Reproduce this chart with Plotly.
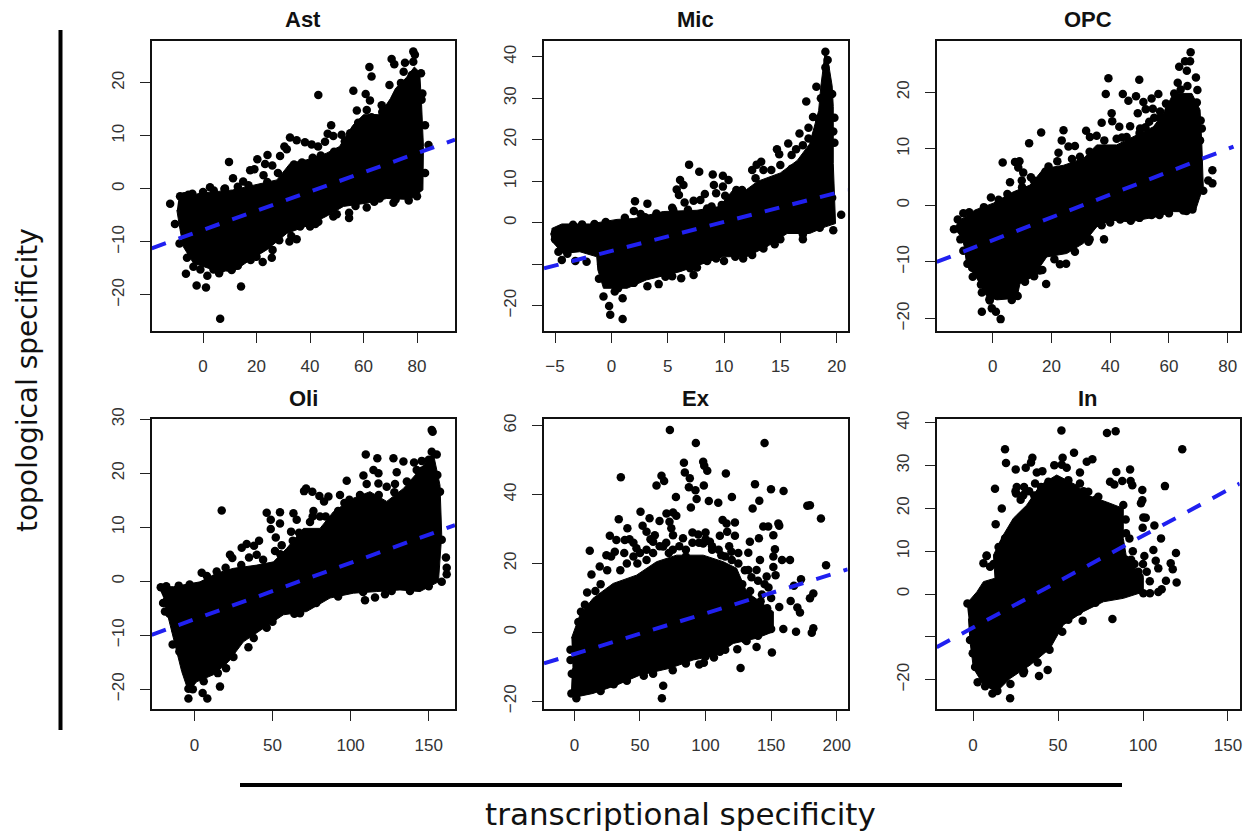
import plotly.graph_objects as go

TITLES = ["Ast", "Mic", "OPC", "Oli", "Ex", "In"]

# dense-core silhouettes and individually readable points, in data units
AST_CORE_X = [-9.2,-1,11,20,27.6,32.5,38.8,46,51,56,60,66,70,72,76,79,81,81.7,82.4,82.2,77.5,68.7,61,52.5,46,38.8,31.3,23.8,17.6,11.3,3.9,-3.6,-7.4,-8.6,-9.8]
AST_CORE_Y = [-1.8,-.8,-.2,.8,1.7,4.8,5.5,6.7,8,12,14,14,17,19,21,23,22,16,8,-.2,-2,-1.8,-2.7,-3.3,-5.2,-7,-8.4,-11.5,-13.4,-15.6,-15.3,-14,-10.9,-7.7,-4]
AST_X = [-12.3,-10.5,-8.8,-6.4,-2.4,1.1,1.6,6.4,14.2,9.7,11.2,20.3,24.1,23.2,22.6,17.6,19.2,25.9,28.8,30.4,31.3,32.5,35,38.1,40.6,43,45.6,43.1,47.9,46.6,48.7,51.8,56.2,62.2,63,60.8,62.4,57.5,61.2,66.8,64.3,70.5,71.5,75.5,78.6,79.2,78.6,75,69.7,81.5,81.7,84.3,71.2,76.9,66,61.2,54.6,54.6,48.7,43.1,40,36.3,35,32.3,28.5,25.7,22.3,17.8,10.7,7,3.9,-3.6,-8.6,-5.5,2.6,8.2,15]
AST_Y = [-2.8,-6.6,-10.3,-16,-18.2,-18.6,-16.4,-24.5,-18.4,5.1,2,5.6,6.4,4.7,2.6,3.5,3.7,4.4,6.2,8,7.5,9.7,9.2,8.8,8.4,8,8.9,17.7,12,10.4,10,10.2,18.5,23,21.2,17.9,16.7,14.8,14.9,15.8,13.3,24.5,23.5,23.8,25.9,25.3,24,22.1,19.6,21.8,16.8,8.3,-2.6,-2.2,-1.8,-3.5,-5.5,-4.5,-5.2,-6.2,-7.1,-7.1,-9.5,-9.9,-9.7,-13,-13.8,-13.4,-15.3,-15,-15.2,-14.7,-1.4,-1.1,.3,.1,1.4]
AST_EDGE_X = [-7,-4,0,4,8,13,17,24,28,34,37,41,44,49,53,55,58,63,67,-6,-1,6,13,20,26,33,42,50,57,64,72,80,83,83,82,74,78]
AST_EDGE_Y = [-1.4,-.9,-.6,-.3,0,.4,.7,1.3,3,4.6,5,5.9,6.3,7,9,10.5,12.5,13.5,14.5,-13,-15.2,-15.9,-14.5,-12.8,-11.5,-8.9,-6.6,-4.8,-3.2,-2.4,-2,-1.4,3,12,18,20,21.5]

MIC_CORE_X = [-5.3,-4.4,-1.9,.5,2,4.6,7.6,9.6,10.8,12,13,15,16.5,17.6,18,18.4,18.6,18.8,19,19.3,19.6,19.7,19.7,19.9,19,17.6,15.6,13.8,12,9.9,8.2,6.1,3.1,1.4,-.7,-1.2,-1.3,-2.8,-4.3,-5.1,-5.4]
MIC_CORE_Y = [-1.4,-.3,-.3,.8,1,2.7,3,3.9,7.9,8,10,12,15,19,23,27,33,38,41.6,38,33,28,14.3,-.2,-1,-2.6,-2.6,-5.8,-8.2,-8.2,-9.8,-11.8,-13.8,-15.8,-15.8,-11.4,-8.2,-7,-7.4,-5,-2.6]
MIC_X = [-4.4,-3.2,-2.2,-4.7,-3.9,-.7,-.2,-.1,1,1,.3,3.2,4.2,5.4,6.2,7.3,7.6,2.1,3.2,2,2.6,5.4,6.9,7.8,6.1,6.4,5.8,6,6.5,7.3,7.9,8.3,9,9.9,10.4,9.1,9.9,9.3,10.1,8.9,9.8,11.1,12.5,12.9,13.3,13.5,12.8,14.2,15,14.7,14.9,15.7,16,16.7,16.4,17.3,17.5,17,17.5,17.9,18.2,19,19.2,19,19.8,19.8,20.4,19.7,17,14.5,13.5,11.7,11,9.3,8.5]
MIC_Y = [-9,-9.2,-9.4,-7,-7.5,-17.8,-20.1,-22.2,-23.2,-18.2,-16.6,-15.3,-14.8,-12.9,-13.4,-12.6,-10.8,5.2,4.6,2.8,2.1,3.6,14,12.3,10.3,9.1,8,6.7,4.9,5.3,5.5,6.9,11.6,11.3,10.3,9.1,8.7,7.1,6.5,3.9,4.3,7.9,12.7,14,14.7,12.7,10.7,12.7,13.9,17.7,16.5,19.1,16.3,21.5,17.7,29.2,22.9,18.7,20.3,25.5,32.8,41.2,39.2,37.4,25.3,19.3,1.9,-1.8,-4,-5.2,-6.2,-8.6,-8.2,-8.6,-9.2]
MIC_EDGE_X = [-5,-4.8,-3.4,-2.6,-1.5,-.5,1.2,3,4,5.5,6.8,8.5,10.4,11.6,14,15.5,16,17,18.2,18.4,18.6,19.6,19.7,19.6,2,4.8,7,10,12.5,15,17,18.5,-.9,-1.1,.6]
MIC_EDGE_Y = [-4,-2.8,-.5,-.4,-.3,.2,1.2,1.3,2.2,3,3.1,3.4,5,7.9,9.5,11,13,15,21,25,30,31,22,6,-14.5,-13,-11,-9.2,-7.8,-4,-2.8,-1.2,-10,-13.5,-15.8]

OPC_CORE_X = [-13.2,-11.1,-6,.2,7,12.7,17.3,24.1,30.9,35.4,42.2,47.9,54.7,58.1,61.5,67.8,70.6,71.2,71.7,68.9,61.5,55.8,46.8,40,35.4,30.9,25.2,18.4,13.8,9.3,8.2,1.4,-2,-5.4,-8.9,-10]
OPC_CORE_Y = [-4.1,-2.6,-.8,.4,2.4,3.6,6.5,7.1,8.3,10.7,10.7,12.1,13.9,16.3,19.8,19.8,16.9,11,3.3,-1.1,-1.1,-2,-2.9,-2.6,-3.8,-6.7,-8.5,-9.1,-12.6,-13.8,-16.4,-16.7,-16.1,-12.9,-10.3,-6.1]
OPC_X = [-13.2,-11.9,-10,-11.1,-8.6,-8.6,-6.8,-3.7,-3.7,-.3,1.1,2.7,-1.1,6.5,8.5,18.2,16.9,14.1,22.9,25,32.6,37.9,37.1,43.4,47,54.1,56.8,64.9,68,71.7,73.4,74.8,74.8,-.6,3.4,7.6,9.1,8.7,10.4,5.9,9.9,12.4,16.5,24.1,23.5,22.4,28,25.8,29.7,31.8,33.1,35.4,37.1,38.5,39.4,40.5,40.7,43.1,42.2,45.6,46.8,44.3,46.2,48.8,49.9,49.4,51.3,52.1,54.5,54.1,56.4,57,53.3,50.2,60.2,61.8,63,63.5,65.5,67.4,67.2,66.1,66.3,69.2,69.7,69.5,70.8,71.2,70.6]
OPC_Y = [-4.2,-2.5,-1.4,-4.1,-6.7,-10.3,-12.6,-15.4,-18.8,-18.2,-18.8,-20.1,-16.6,-16.7,-16,-13.9,-11.4,-12.5,-10.4,-10.3,-6.4,-6,-3.5,-2.5,-2.7,-1.7,-1.7,-.9,-.7,2.6,4.4,3.9,6.2,1.4,7.6,7.7,7.8,6.7,5.8,4.1,4.4,11,12.9,13.3,11.5,9.3,10.5,10.4,8.6,13.2,12.1,12.3,14.6,19.7,22.5,16.3,14.9,13.9,11.8,12.1,14,19.7,18.5,19.3,22.2,16.3,18.3,17,17.1,18.9,19.7,16.6,14.8,13.6,17.7,19.8,21.7,24.5,25.5,27.1,25.5,23.8,21.1,22.6,20.4,18.2,15,13.6,11.5]
OPC_EDGE_X = [-8,-3,2,5,10,14,19,22,27,33,38,44,50,52,57,60,64,-11,-10,-7,-4,-1,5,11,16,21,28,33,40,50,60,66,13,18,55,59,62,58]
OPC_EDGE_Y = [-1.2,-.3,1,2,3.2,4.4,6.9,7.8,8.2,9.5,11.5,12,12.8,13.8,15.5,17,20.5,-6,-8,-11,-14,-16.8,-15.8,-13.5,-11.5,-9.5,-8.2,-6,-3,-2.2,-1.4,-1,5,6,15.5,18,18,14]

OLI_CORE_X = [-23,-13.4,3.6,14.3,25,39.9,50.6,59.1,69.8,80.4,89,101.8,112.4,123.1,133.8,142.3,152.9,157.2,158.3,156.2,144.4,131.6,116.7,101.8,86.8,71.9,57,44.2,31.4,21.8,12.2,1.5,-3.8,-8.1,-11.3,-14.5,-17.7,-19.8]
OLI_CORE_Y = [-1,-1,-.1,1.5,2.4,3,3.6,6.1,9.8,9.8,12.9,15.4,16.6,14.8,17.2,20,23.7,17.8,8.6,-.1,-1.9,-1.6,-1.9,-2.2,-3.1,-5.6,-6.2,-8.7,-11.2,-14.9,-17.3,-18.6,-20.4,-16.7,-13,-9.3,-5.6,-3.1]
OLI_X = [-21.5,-18.8,-13.9,-9.6,-3.8,-3.8,5.3,8.3,16.4,20.3,17.5,4.7,14.3,22.8,24.3,30.3,33.5,38.2,41.4,35,39.9,46.3,48.9,48.9,54.8,54.8,52.1,55.9,51.6,63.4,61.9,65.5,70.2,71.5,75.5,76.2,75.7,80,85.8,83,80.4,93.2,97.5,99.2,109.7,117.1,127.4,108.2,114.6,117.8,110.3,117.8,123.1,128.4,129.5,133.8,140.6,145.5,151.9,152.5,151.9,155.1,142.3,155.5,157.2,158.3,161,161.5,161.5,158.3,109.2,115.6,122,126.3,67.6,34.6,46.3,20.7]
OLI_Y = [-1.1,-5.6,-11.7,-13,-21.7,-19.9,-20.7,-21.7,-19.5,-16.1,13.1,1.6,1.8,4.9,4.3,6.2,6.9,6.6,7.5,4.4,4.9,12.7,11.4,9.7,12.8,10.7,8.1,6.7,5.6,12.6,9.2,11.4,16.7,17.2,16.6,13,12,15.8,15.7,14.8,12,16,18.6,15.1,23.5,22.8,22.8,19.6,20.6,20,18,18.1,17.5,18,20.2,22.2,22,22.3,28,27.7,24,23.5,20.6,19.7,16.6,7.7,4.4,2.5,1.3,-.1,-3.5,-3,-2.4,-1.8,-5.9,-12.2,-8.6,-14]
OLI_EDGE_X = [-18,-10,-3,8,20,30,44,55,63,67,74,84,92,96,106,118,128,136,146,150,-20,-16,-12,-1,6,15,25,38,50,64,78,92,108,138,150]
OLI_EDGE_Y = [-.9,-.8,-.6,1,2.5,3,4,5,7.5,9,11,12,13,14.5,16,16,16.5,18.5,20.5,22.5,-4,-6,-9,-20,-18.5,-17,-14,-10.5,-7.5,-6,-4,-2.8,-2,-1.8,-.9]

EX_CORE_X = [-2.3,4.1,14.2,29.5,47.3,62.6,77.9,98.2,113.5,123.7,131.3,141.5,151.7,151.7,138.9,121.1,108.4,90.6,72.8,49.9,32.1,14.2,1.5,-2.3,-1.5]
EX_CORE_Y = [-1.7,5,9.9,14.2,16.6,20.5,22.4,22.4,20.5,18.6,11.8,8.9,6,.2,-1.7,-3.2,-6.6,-8,-10.4,-12.4,-15.3,-17.7,-18.7,-17.7,-10.4]
EX_X = [72.8,92.6,145,35.4,83.5,84.2,88,98.2,99,101.3,66.4,68.4,62.6,87.3,92.3,98.7,115.5,137.7,149.9,159.5,93.2,102.5,109.7,120.1,141,135.9,88.8,77.4,177.6,179.6,188,50.4,33.8,70.2,75.2,77.7,57.3,64.9,72.5,52,73.9,40.4,27,32,38.4,55,61.3,75.2,82.8,94.4,113,116,122.4,116.5,122.4,110.9,133.8,140.7,144,147.8,155.5,156.2,151.7,152.9,151.7,158.3,164.4,191.9,132.6,141.5,151.7,153.4,146.6,138.9,132.6,172.8,167.4,182.2,179.6,164.9,156.2,170,172,182.2,181,169,159.3,150.6,126.7,131.3,138.9,124.2,95.2,98.7,106.4,110.9,67.7,66.7,1.5,-2.3,52.9,11.7,13,9.7,19.3,24.4,30.8,47.3,60,67.7,98.2,103.3,112,119.7]
EX_Y = [58.7,54.9,54.9,45,49.2,46.4,44.7,49.5,48.3,46.9,45.4,43.9,42.6,42.1,41.2,42.6,46.1,43,41.5,41,38.7,38.1,37.6,39.3,38.2,35.9,36.2,39.3,36.7,36.9,33,35,32.8,34.5,34.8,33.8,33.1,32.3,32.1,30.9,30.2,30.2,28,26.8,26.8,29.2,28.2,28.2,27.3,28.4,32.6,31.6,31.9,29.2,28,28,26.3,27.3,30.7,30.7,31.6,30.9,28.2,24.1,22,21,21,19.5,23.1,21,19,16.6,16.2,18.1,18.1,15.4,13.5,11.3,9.9,9.1,7.4,7.2,5.8,1.2,-.1,.2,1,-5.8,-10.3,-2.5,-4.2,-4.9,-9.3,-8.8,-7.3,-5.6,-15.5,-19.1,-19.1,-17.7,-12.6,23.7,16.8,11.6,19.1,22.4,23.4,24.4,26.3,24.9,25.8,26.3,22.4,23.4]
EX_EDGE_X = [35,40,45,50,55,60,65,70,75,80,85,90,95,100,105,110,115,120,125,130,135,140,145,100,90,45,58,48,42,38,28,25,20,16,8,5,3,150,148,143,20,30,40,60,75,85,100,115,130,140,150,-3,-3,-2,125,118,105,85,72,55,128,134,142,136,147,140]
EX_EDGE_Y = [18,20,22,23,24,23,25,26,24,25,24,26,26,27,25,24,22,21,20,18,16,15,14,29,29,26,27,20,27,23,22,18,14,12,8,6,3,10,13,11,-17,-15,-14,-12,-11,-9,-7,-5,-2,-1,1,-5,-8,-12,23,25,24,22,23,21,14,12,9,9,7,5]

IN_CORE_X = [-3.7,2.2,6.1,12.9,12,17.8,23.7,31.6,39.4,49.2,61,66.9,78.6,88.4,88.4,90.4,100.2,100.2,88.4,76.7,64.9,53.1,45.3,33.5,21.8,13.9,6.1,.2,-1.8,-2.7]
IN_CORE_Y = [-2.2,.5,2.9,3.7,9.1,13.8,17.7,20.8,25.4,27.8,25.4,23.1,21.5,20,13,8.3,3.7,.5,-1,-1.8,-4.1,-7.2,-12.7,-16.6,-19.7,-22.8,-21.2,-17.3,-11.1,-5.7]
IN_X = [52,78.8,83.9,123.1,18.8,19.4,59.4,52.7,34.9,34.1,31,25.1,47.8,52.2,55.1,66.9,70.2,62.9,37.5,40.8,84.3,92.4,12.9,80.6,83.1,87.8,92.7,93.7,112.9,99.6,99.6,98.8,16.9,13.3,100.2,101.6,99.8,106.7,110.6,106.1,100.8,119.4,107.5,116.3,117.5,109,113.5,119.8,111,109,104.1,100.2,82,64.5,52.5,43.9,38.8,29.6,21.8,11.4,14.3,2.7,7.1,-3.3,8,6.1,10,18.8,27.6,25.7,25.3,29.6,36.5,44.3,56.1,62.9,67.8,73.7,80.6,88.4,89.8,90,97.3,102.2,-1.8,-.2,1.2]
IN_Y = [38.2,37.6,38,33.8,33.8,30.6,33,31.8,31.8,30.7,29.5,29.1,30.1,30.2,29.5,30.9,31.5,28.4,28.4,28.7,28.5,29.1,24.6,26.2,25.6,26.4,26.4,25.4,25.2,24.3,21.9,21.2,20,16.3,17.9,17.8,15.5,16,13,10.3,8.9,9.6,7.8,7.2,5.8,6,3.1,2.7,1.1,.5,.2,.2,-5.8,-6.2,-8.8,-17.7,-19.1,-18.5,-24.3,-23.2,-22.6,-20.6,-21.5,-2.2,8.9,7.2,6.4,13,16.5,25,23.5,23.1,25.8,26.2,26.6,25.8,23.9,22.7,20,20.8,17.4,14.2,5.2,5.2,-10.7,-13.8,-17]
IN_EDGE_X = [25,28,30,33,36,40,43,47,50,53,56,60,65,68,72,75,78,82,86,92,94,93,96,8,12,15,18,50,45,38,92,104,100,72,62,56,22,30,92,96,90,95,98]
IN_EDGE_Y = [24,22,25,24,23,25,24,26,26,25,24,22,24,22,22,20,19,18,17,13,10,8,5,9,7,11,12,-8,-13,-16,1.5,3,7,-2,-4,-6,-21,-18,5,3,8,7,4]

# dashed fit lines: end points
AST_FIT = ([-19.2, 94.2], [-11.2, 9.3])
MIC_FIT = ([-5.98, 20.98], [-11.0, 7.9])
OPC_FIT = ([-19.07, 82.0], [-10.0, 10.4])
OLI_FIT = ([-27.3, 166.8], [-9.9, 10.4])
EX_FIT = ([-23.2, 208.4], [-9.0, 18.3])
IN_FIT = ([-21.4, 156.9], [-12.4, 25.8])

X_TICKS = [[0,20,40,60,80], [-5,0,5,10,15,20], [0,20,40,60,80], [0,50,100,150], [0,50,100,150,200], [0,50,100,150]]
Y_TICKS = [[-20,-10,0,10,20], [-20,-10,0,10,20,30,40], [-20,-10,0,10,20], [-20,-10,0,10,20,30], [-20,0,20,40,60], [-20,-10,0,10,20,30,40]]
Y_HIDDEN = [[], [-10], [], [], [], [-10]]
X_RANGES = [(-19.2,94.2), (-5.98,20.98), (-19.07,84.1), (-27.3,166.8), (-23.2,208.4), (-21.4,156.9)]
Y_RANGES = [(-26.8,27.9), (-26.1,43.8), (-22.2,29.07), (-23.7,30.0), (-22.3,61.8), (-26.9,40.8)]

CORES = [(AST_CORE_X,AST_CORE_Y),(MIC_CORE_X,MIC_CORE_Y),(OPC_CORE_X,OPC_CORE_Y),(OLI_CORE_X,OLI_CORE_Y),(EX_CORE_X,EX_CORE_Y),(IN_CORE_X,IN_CORE_Y)]
POINTS = [(AST_X+AST_EDGE_X,AST_Y+AST_EDGE_Y),(MIC_X+MIC_EDGE_X,MIC_Y+MIC_EDGE_Y),(OPC_X+OPC_EDGE_X,OPC_Y+OPC_EDGE_Y),
          (OLI_X+OLI_EDGE_X,OLI_Y+OLI_EDGE_Y),(EX_X+EX_EDGE_X,EX_Y+EX_EDGE_Y),(IN_X+IN_EDGE_X,IN_Y+IN_EDGE_Y)]
FITS = [AST_FIT,MIC_FIT,OPC_FIT,OLI_FIT,EX_FIT,IN_FIT]

W, H = 1246, 835
BOX_X = [(151.7,455),(544,847.7),(936.7,1239.7),(151.7,455),(544,847.7),(936.7,1239.7)]
BOX_Y = [(41,331),(41,331),(41,331),(419.3,709.3),(419.3,709.3),(419.3,709.3)]

def label(v):
    return str(v).replace("-", "\u2212")

fig = go.Figure()
annotations = []
for i, title in enumerate(TITLES):
    n = "" if i == 0 else str(i + 1)
    xr, yr = "x" + n, "y" + n
    cx, cy = CORES[i]
    fig.add_trace(go.Scatter(x=cx, y=cy, mode="lines", fill="toself", fillcolor="black",
                             line=dict(color="black", width=1), xaxis=xr, yaxis=yr,
                             hoverinfo="skip", showlegend=False))
    px_, py_ = POINTS[i]
    fig.add_trace(go.Scatter(x=px_, y=py_, mode="markers", marker=dict(color="black", size=8.5),
                             xaxis=xr, yaxis=yr, showlegend=False))
    fx, fy = FITS[i]
    fig.add_trace(go.Scatter(x=fx, y=fy, mode="lines", line=dict(color="#2020f0", width=4, dash="15px,13.5px"),
                             xaxis=xr, yaxis=yr, showlegend=False))
    x0, x1 = BOX_X[i]
    y0, y1 = BOX_Y[i]
    common = dict(showgrid=False, zeroline=False, showline=True, mirror=True, linecolor="#111111",
                  linewidth=1.6, ticks="outside", ticklen=10, tickwidth=1.4, tickcolor="#222222",
                  automargin=False,
                  tickfont=dict(family="Liberation Sans", size=17, color="#333333"), ticklabelstandoff=9)
    fig.update_layout({
        "xaxis" + n: dict(domain=[x0 / W, x1 / W], range=list(X_RANGES[i]), tickmode="array",
                          tickvals=X_TICKS[i], ticktext=[label(v) for v in X_TICKS[i]],
                          anchor=yr, tickangle=0, **common),
        "yaxis" + n: dict(domain=[1 - y1 / H, 1 - y0 / H], range=list(Y_RANGES[i]), tickmode="array",
                          tickvals=Y_TICKS[i],
                          ticktext=["" if v in Y_HIDDEN[i] else label(v) for v in Y_TICKS[i]],
                          anchor=xr, tickangle=-90, **common),
    })
    annotations.append(dict(text="<b>%s</b>" % title, xref="paper", yref="paper",
                            x=(x0 + x1) / 2 / W, y=1 - (y0 - 21) / H, xanchor="center", yanchor="middle",
                            showarrow=False, font=dict(family="Liberation Sans", size=22, color="#111111")))

annotations.append(dict(text="topological specificity", xref="paper", yref="paper", x=27 / W, y=1 - 380 / H,
                        textangle=-90, showarrow=False, xanchor="center", yanchor="middle",
                        font=dict(family="DejaVu Sans", size=28, color="#111111")))
annotations.append(dict(text="transcriptional specificity", xref="paper", yref="paper", x=680 / W, y=1 - 814 / H,
                        showarrow=False, xanchor="center", yanchor="middle",
                        font=dict(family="DejaVu Sans", size=31, color="#111111")))

shapes = [
    dict(type="line", xref="paper", yref="paper", x0=60.5 / W, x1=60.5 / W, y0=1 - 30 / H, y1=1 - 730 / H,
         line=dict(color="black", width=4)),
    dict(type="line", xref="paper", yref="paper", x0=240 / W, x1=1122 / W, y0=1 - 785 / H, y1=1 - 785 / H,
         line=dict(color="black", width=4)),
]

fig.update_layout(width=W, height=H, margin=dict(l=0, r=0, t=0, b=0, pad=0), autosize=False,
                  plot_bgcolor="white", paper_bgcolor="white", annotations=annotations, shapes=shapes,
                  showlegend=False)

fig.write_html("out.html", config={"displayModeBar": False},
               post_script="document.body.style.margin='0';document.body.style.overflow='hidden';")
